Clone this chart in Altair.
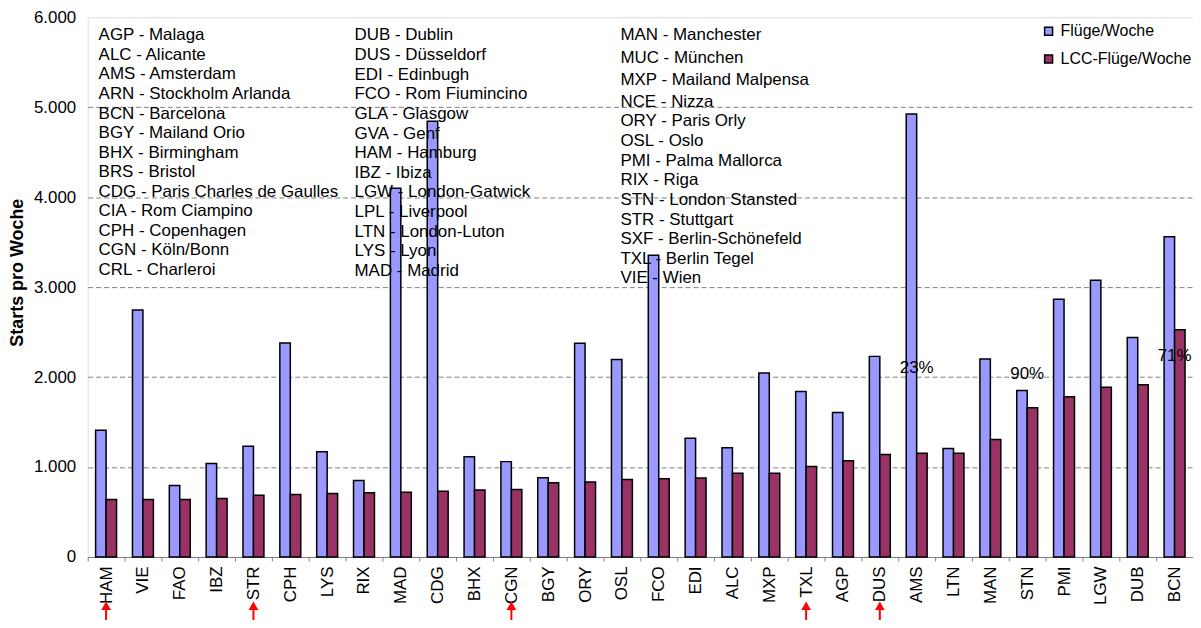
import altair as alt
import pandas as pd

airports = ["HAM", "VIE", "FAO", "IBZ", "STR", "CPH", "LYS", "RIX", "MAD", "CDG",
            "BHX", "CGN", "BGY", "ORY", "OSL", "FCO", "EDI", "ALC", "MXP", "TXL",
            "AGP", "DUS", "AMS", "LTN", "MAN", "STN", "PMI", "LGW", "DUB", "BCN"]
fluege = [1410, 2745, 795, 1040, 1230, 2380, 1170, 850, 4100, 4845,
          1115, 1060, 880, 2375, 2195, 3355, 1320, 1215, 2045, 1840,
          1605, 2230, 4925, 1205, 2200, 1850, 2865, 3075, 2440, 3560]
lcc = [640, 640, 640, 650, 685, 695, 705, 715, 720, 730,
       745, 750, 825, 833, 862, 870, 878, 932, 932, 1005,
       1070, 1140, 1152, 1152, 1305, 1660, 1780, 1888, 1915, 2526]
series_names = ["Flüge/Woche", "LCC-Flüge/Woche"]
series_colors = ["#9999FF", "#993366"]

german = ["HAM", "STR", "CGN", "TXL", "DUS"]

pct_airports = ["AMS", "STN", "BCN"]
pct_labels = ["23%", "90%", "71%"]
pct_ypos = [2105, 2030, 2235]

col1 = ["AGP - Malaga", "ALC - Alicante", "AMS - Amsterdam", "ARN - Stockholm Arlanda",
        "BCN - Barcelona", "BGY - Mailand Orio", "BHX - Birmingham", "BRS - Bristol",
        "CDG - Paris Charles de Gaulles", "CIA - Rom Ciampino", "CPH  - Copenhagen",
        "CGN - Köln/Bonn", "CRL - Charleroi"]
col2 = ["DUB - Dublin", "DUS - Düsseldorf", "EDI - Edinbugh", "FCO - Rom Fiumincino",
        "GLA - Glasgow", "GVA - Genf", "HAM - Hamburg", "IBZ - Ibiza",
        "LGW - London-Gatwick", "LPL - Liverpool", "LTN - London-Luton", "LYS - Lyon",
        "MAD - Madrid"]
col3a = ["MAN - Manchester", "MUC - München", "MXP - Mailand Malpensa", "NCE - Nizza"]
col3b = ["ORY - Paris Orly", "OSL - Oslo", "PMI - Palma Mallorca", "RIX - Riga",
         "STN - London Stansted", "STR - Stuttgart", "SXF - Berlin-Schönefeld",
         "TXL - Berlin Tegel", "VIE - Wien"]

rows = []
for a, f, l in zip(airports, fluege, lcc):
    rows.append({"airport": a, "series": series_names[0], "value": f})
    rows.append({"airport": a, "series": series_names[1], "value": l})
bars_df = pd.DataFrame(rows)
german_df = pd.DataFrame({"airport": german})
pct_df = pd.DataFrame({"airport": pct_airports, "label": pct_labels, "ypos": pct_ypos})

FONT = "Liberation Sans"

x_enc = alt.X(
    "airport:N", sort=airports,
    scale=alt.Scale(paddingInner=0, paddingOuter=0),
    axis=alt.Axis(title=None, labelAngle=-90, labelFontSize=17, labelColor="black",
                  labelPadding=5, tickBand="extent", tickSize=4, tickColor="#808080",
                  domainColor="#808080", grid=False, labelFont=FONT),
)
y_scale = alt.Scale(domain=[0, 6000], nice=False)
y_axis = alt.Axis(
    title="Starts pro Woche", titleFontSize=18, titleFontWeight="bold", titleFont=FONT,
    titleColor="black", titleX=-70, titleY=256, titleBaseline="middle",
    values=[0, 1000, 2000, 3000, 4000, 5000, 6000],
    labelExpr="replace(format(datum.value, ','), ',', '.')",
    labelFontSize=17, labelColor="black", labelPadding=12, labelFont=FONT,
    ticks=False, domain=False, grid=True, gridColor="#808080", gridDash=[5, 3],
    gridOpacity={"condition": {"test": "datum.value >= 6000", "value": 0}, "value": 1},
)

bars = alt.Chart(bars_df).mark_bar(stroke="black", strokeWidth=1.5).encode(
    x=x_enc,
    xOffset=alt.XOffset("series:N", sort=series_names, scale=alt.Scale(paddingOuter=0.76, paddingInner=0)),
    y=alt.Y("value:Q", scale=y_scale, axis=y_axis),
    color=alt.Color(
        "series:N", sort=series_names,
        scale=alt.Scale(domain=series_names, range=series_colors),
        legend=alt.Legend(title=None, orient="none", legendX=957, legendY=6,
                          symbolType="square", symbolSize=64, symbolStrokeColor="black",
                          symbolStrokeWidth=1.5, symbolOpacity=1, labelFontSize=16,
                          labelFont=FONT, labelColor="black", labelOffset=4,
                          rowPadding=12, padding=0),
    ),
)

pct = alt.Chart(pct_df).mark_text(fontSize=17, font=FONT, color="black", baseline="middle").encode(
    x=x_enc,
    y=alt.Y("ypos:Q", scale=y_scale, axis=y_axis),
    text="label:N",
)

arrow_shaft = alt.Chart(german_df).mark_rule(color="red", strokeWidth=2).encode(
    x=x_enc, y=alt.value(594), y2=alt.value(606),
)
arrow_head = alt.Chart(german_df).mark_point(
    shape="triangle-up", filled=True, color="red", opacity=1, size=95
).encode(x=x_enc, y=alt.value(591))


def text_block(lines, x, y, lh):
    df = pd.DataFrame({"t": ["\n".join(lines)]})
    return alt.Chart(df).mark_text(
        align="left", baseline="alphabetic", fontSize=17, font=FONT, color="black",
        lineBreak="\n", lineHeight=lh,
    ).encode(text="t:N", x=alt.value(x), y=alt.value(y))


t1 = text_block(col1, 11, 23.3, 19.6)
t2 = text_block(col2, 268, 23.3, 19.7)
t3 = text_block(col3a, 535, 23.3, 22.2)
t4 = text_block(col3b, 535, 109.7, 19.7)

chart = alt.layer(bars, pct, arrow_shaft, arrow_head, t1, t2, t3, t4).properties(
    width=1110, height=542,
    padding={"left": 80, "top": 8, "right": 0, "bottom": 62},
    autosize=alt.AutoSizeParams(type="none"),
).configure_view(stroke=None).configure(font=FONT)

chart.save("out.html", embed_options={"renderer": "svg", "actions": False})
